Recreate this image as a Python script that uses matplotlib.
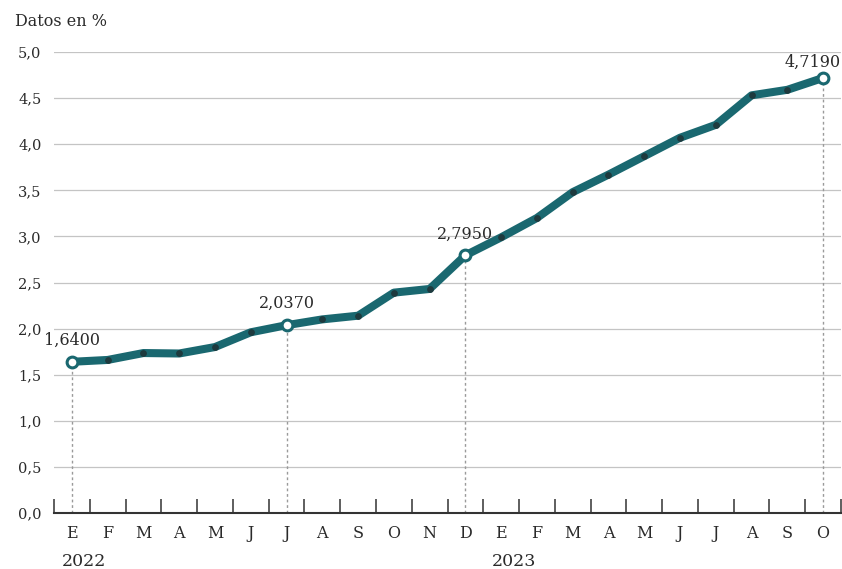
import matplotlib.pyplot as plt
import numpy as np

plt.rcParams['font.family'] = ['DejaVu Serif']

months = ['E', 'F', 'M', 'A', 'M', 'J', 'J', 'A', 'S', 'O', 'N', 'D',
          'E', 'F', 'M', 'A', 'M', 'J', 'J', 'A', 'S', 'O']
years = ['2022', '2023']
year_pos = [0, 12]
values = [1.640, 1.66, 1.735, 1.73, 1.80, 1.96, 2.037, 2.10, 2.14, 2.39, 2.43, 2.795,
          2.99, 3.20, 3.48, 3.67, 3.87, 4.07, 4.21, 4.53, 4.59, 4.719]
highlight = [0, 6, 11, 21]
highlight_labels = ['1,6400', '2,0370', '2,7950', '4,7190']

teal = '#1a6870'
dark = '#1e3a3e'
txt = '#2a2a2a'

fig = plt.figure(figsize=(8.42, 5.69), dpi=100)
ax = fig.add_axes([54 / 842, 1 - 513 / 569, 787 / 842, 461 / 569])
x = np.arange(len(values))

# grid lines
for g in np.arange(0.5, 5.01, 0.5):
    ax.axhline(g, color='#c4c4c4', lw=0.9, zorder=0)

# dotted guides for highlighted points
for i in highlight:
    ax.plot([i, i], [0, values[i]], color='#9a9a9a', lw=1.0, ls=(0, (2, 2)), zorder=1)

ax.plot(x, values, color=teal, lw=5.8, solid_capstyle='round', solid_joinstyle='round', zorder=3)
ax.scatter(x, values, s=15, color=dark, zorder=4)
ax.scatter([x[i] for i in highlight], [values[i] for i in highlight], s=60,
           facecolor='white', edgecolor=teal, linewidth=2.2, zorder=5)

for i, lab in zip(highlight[:-1], highlight_labels[:-1]):
    ax.text(x[i], values[i] + 0.14, lab, ha='center', va='bottom', fontsize=11.5,
            color=txt, zorder=6)
ax.text(x[-1] + 0.5, values[-1] + 0.08, highlight_labels[-1], ha='right', va='bottom',
        fontsize=11.5, color=txt, zorder=6, clip_on=False)

ax.set_xlim(-0.5, len(values) - 0.5)
ax.set_ylim(0, 5.0)

for s in ['top', 'right', 'left']:
    ax.spines[s].set_visible(False)
ax.spines['bottom'].set_color('#333333')
ax.spines['bottom'].set_linewidth(1.5)

ax.set_xticks(x)
ax.set_xticklabels(months, fontsize=11.5, color=txt)
ax.set_xticks(np.arange(-0.5, len(values), 1.0), minor=True)
ax.tick_params(axis='x', which='major', length=0, pad=9)
ax.tick_params(axis='x', which='minor', direction='in', length=10, width=1.1, color='#333333')

yt = np.arange(0, 5.01, 0.5)
ax.set_yticks(yt)
ax.set_yticklabels([f'{v:.1f}'.replace('.', ',') for v in yt], fontsize=10.5, color=txt)
ax.tick_params(axis='y', length=0, pad=9)

for yp, yl in zip(year_pos, years):
    ax.text(yp - 0.27, -0.106, yl, ha='left', va='center', fontsize=12.5, color=txt,
            transform=ax.get_xaxis_transform(), clip_on=False)

fig.text(15 / 842, 1 - 22 / 569, 'Datos en %', fontsize=11.5, color=txt, va='center', ha='left')

fig.savefig('out.png', dpi=100)
